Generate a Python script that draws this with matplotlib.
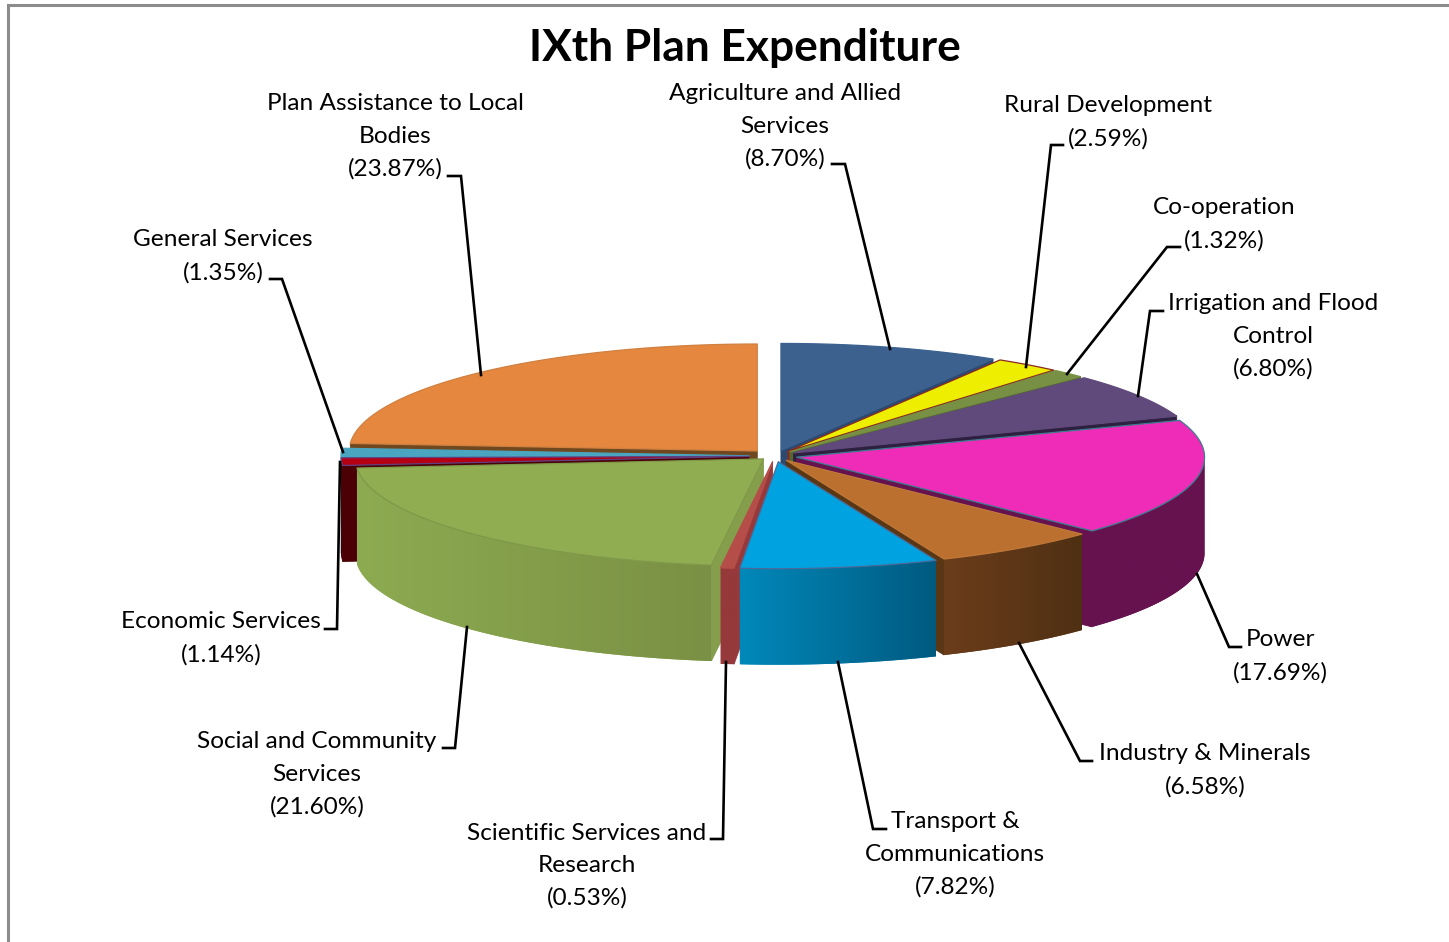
#!/usr/bin/env python
"""IXth Plan Expenditure - exploded 3D-look pie drawn on a pixel-sized axes."""
import numpy as np
import matplotlib
matplotlib.use("Agg")
import matplotlib.pyplot as plt
from matplotlib.colors import to_rgb
from matplotlib.patches import Polygon

TITLE = "IXth Plan Expenditure"
NAMES = ["Agriculture and Allied\nServices", "Rural Development", "Co-operation",
         "Irrigation and Flood\nControl", "Power", "Industry & Minerals",
         "Transport &\nCommunications", "Scientific Services and\nResearch",
         "Social and Community\nServices", "Economic Services", "General Services",
         "Plan Assistance to Local\nBodies"]
VALUES = [8.70, 2.59, 1.32, 6.80, 17.69, 6.58, 7.82, 0.53, 21.60, 1.14, 1.35, 23.87]

# top face, cut face, wall left, wall right, thin edge
TOP = ["#3c618f", "#eeee00", "#779043", "#604a7b", "#ee2cb8", "#bc7030",
       "#00a3e0", "#b54d49", "#90ad52", "#b40012", "#4aa5c0", "#e5873e"]
CUT = ["#2c4a70", "#8a2a20", "#55692f", "#2e2040", "#66124f", "#5a3714",
       "#006d93", "#96393b", "#849e4c", "#4a0004", "#2d7f98", "#70481f"]
WALL_L = ["#2c4a70", "#8a2a20", "#55692f", "#2e2040", "#66124f", "#6b3d1b",
          "#0088ba", "#96393b", "#8dab51", "#4a0004", "#2d7f98", "#70481f"]
WALL_R = ["#2c4a70", "#8a2a20", "#55692f", "#2e2040", "#66124f", "#4f3013",
          "#005a80", "#96393b", "#7a9044", "#4a0004", "#2d7f98", "#70481f"]
EDGE = ["#3c618f", "#8a2a20", "#779043", "#604a7b", "#3d7d8f", "#c07838",
        "#4a6a9a", "#b54d49", "#7f9a4a", "#604080", "#4aa5c0", "#d08040"]
EXPLODE = [22, 22, 22, 22, 22, 20, 22, 22, 16, 26, 26, 26]

# label anchors (centre x, first line y), line pitch in px
LABEL_X = [785, 1108, 1224, 1273, 1280, 1205, 955, 587, 317, 221, 223, 395]
LABEL_Y = [94, 106, 208, 304, 640, 754, 822, 833, 742, 622, 240, 104]
PITCH = 32.5
LEADERS = [[(832, 164), (845, 164), (890, 349)],
           [(1063, 145), (1051, 145), (1026, 367)],
           [(1180, 247), (1167, 247), (1067, 374)],
           [(1163, 311), (1150, 311), (1138, 396)],
           [(1241, 647), (1229, 647), (1197, 574)],
           [(1092, 761), (1080, 761), (1019, 643)],
           [(886, 829), (873, 829), (838, 662)],
           [(711, 839), (723, 839), (726, 662)],
           [(443, 748), (455, 748), (467, 627)],
           [(325, 629), (337, 629), (340, 462)],
           [(270, 279), (282, 279), (343, 452)],
           [(448, 176), (461, 176), (481, 375)]]

W, H = 1449, 942
CX, CY = 775, 456
RX, RY = 408, 107
DEPTH = 96
FONT = "Lato"


def outer(apex, deg):
    a = np.radians(deg)
    return np.column_stack([apex[0] + RX * np.sin(a), apex[1] - RY * np.cos(a)])


def draw_slice(ax, i, start, end):
    mid = np.radians((start + end) / 2)
    apex = (CX + EXPLODE[i] * np.sin(mid), CY - EXPLODE[i] * RY / RX * np.cos(mid))
    arc = np.linspace(start, end, max(int(end - start) * 2, 4))
    rim = outer(apex, arc)
    down = np.array([0, DEPTH])
    # cut faces, only the ones turned to the viewer
    for deg, seen in ((start, np.sin(np.radians(start)) < -1e-6), (end, np.sin(np.radians(end)) > 1e-6)):
        if seen:
            p = outer(apex, np.array([deg]))[0]
            ax.add_patch(Polygon([apex, p, p + down, np.array(apex) + down], fc=CUT[i], ec=CUT[i], lw=0.6, zorder=1))
    # round wall with a sideways gradient
    lo, hi = max(start, 90), min(end, 270)
    if hi > lo:
        pts = outer(apex, np.linspace(lo, hi, 60))
        shape = Polygon(np.vstack([pts, (pts + down)[::-1]]), fc=WALL_L[i], ec=WALL_L[i], lw=0, zorder=1)
        ax.add_patch(shape)
        left, right = np.array(to_rgb(WALL_L[i])), np.array(to_rgb(WALL_R[i]))
        grad = np.linspace(left, right, 128)[None, :, :]
        im = ax.imshow(grad, extent=(pts[:, 0].min(), pts[:, 0].max(), pts[:, 1].max() + DEPTH, pts[:, 1].min()),
                       aspect="auto", interpolation="bilinear", zorder=1)
        im.set_clip_path(shape)
    ax.add_patch(Polygon(np.vstack([apex, rim]), fc=TOP[i], ec=EDGE[i], lw=0.9, joinstyle="round", zorder=1))


def main():
    fig = plt.figure(figsize=(W / 100, H / 100), dpi=100)
    ax = fig.add_axes([0, 0, 1, 1])

    ax.plot([8, 8, W], [H, 5, 5], color="#8c8c8c", lw=2.2, solid_joinstyle="miter")

    edges = np.concatenate([[0], np.cumsum(VALUES)]) / sum(VALUES) * 360
    mids = (edges[:-1] + edges[1:]) / 2
    # paint from the back of the pie to the front, right of the bottom comes last
    for i in np.argsort(-(np.abs(mids - 180) + 5 * (mids > 180))):
        draw_slice(ax, i, edges[i], edges[i + 1])

    for pts in LEADERS:
        xs, ys = zip(*pts)
        ax.plot(xs, ys, color="black", lw=1.9, solid_joinstyle="miter")
    for name, val, x, y in zip(NAMES, VALUES, LABEL_X, LABEL_Y):
        for k, line in enumerate(name.split("\n") + [f"({val:.2f}%)"]):
            ax.text(x, y + k * PITCH, line, ha="center", va="center", fontsize=17.6,
                    family=FONT, color="black")
    ax.text(745, 48, TITLE, ha="center", va="center", fontsize=31.9, fontweight="bold", family=FONT)
    ax.set_xlim(0, W); ax.set_ylim(H, 0); ax.axis("off")
    fig.savefig("out.png", dpi=100)
    plt.close(fig)


if __name__ == "__main__":
    main()
